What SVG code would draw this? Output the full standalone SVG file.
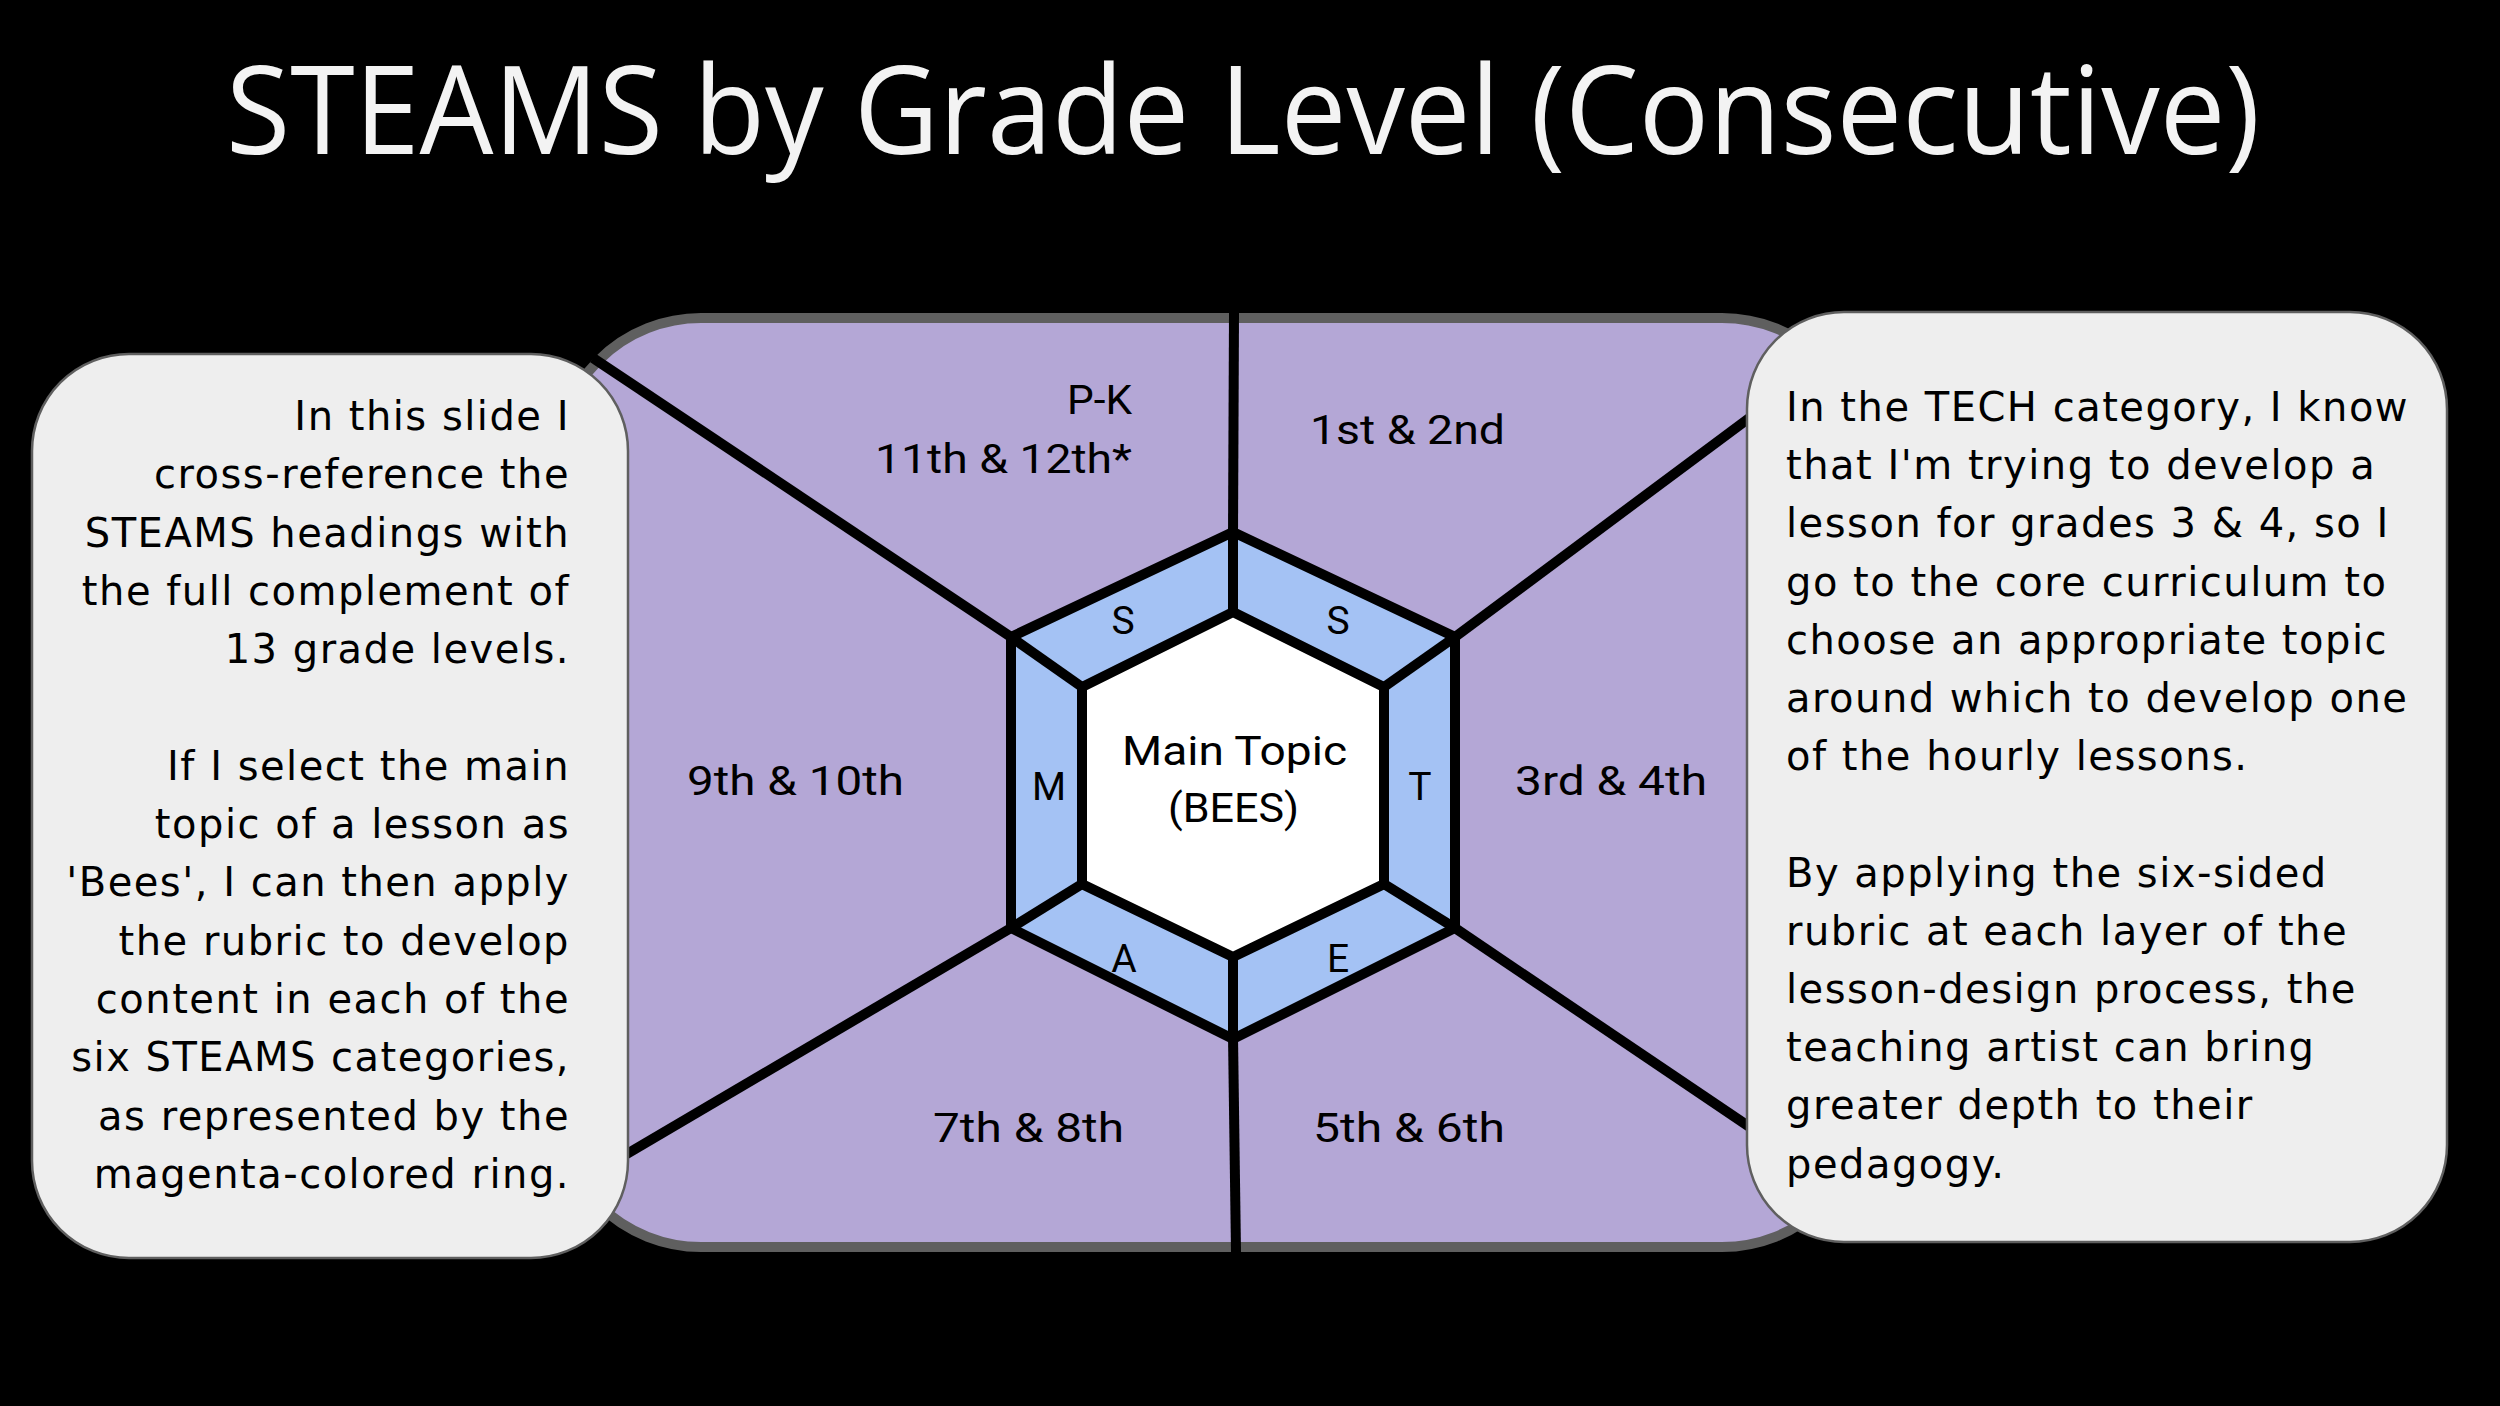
<svg xmlns="http://www.w3.org/2000/svg" width="2500" height="1406" viewBox="0 0 2500 1406">
<style>
.title{font-family:"Open Sans","DejaVu Sans",sans-serif;font-size:122px;fill:#f3f3f3}
.call{fill:#eeeeee;stroke:#5f5f5f;stroke-width:2.5}
.ctext{font-family:"DejaVu Sans",sans-serif;font-size:40px;letter-spacing:1.5px;fill:#000}
.cr{text-anchor:end}
.lbl{font-family:Roboto,"DejaVu Sans",sans-serif;font-size:41px;fill:#000}
.ltr{font-family:Roboto,"DejaVu Sans",sans-serif;font-size:39px;fill:#000;text-anchor:middle}
.spoke{stroke:#000;stroke-width:10;fill:none;stroke-linecap:butt}
.hex{stroke:#000;stroke-width:10;stroke-linejoin:miter}
</style>
<rect x="0" y="0" width="2500" height="1406" fill="#000"/>
<text class="title" x="1243" y="154" text-anchor="middle" textLength="2034" lengthAdjust="spacingAndGlyphs">STEAMS by Grade Level (Consecutive)</text>

<g id="board">
<rect x="556" y="318" width="1311" height="929" rx="145" ry="145" fill="#b4a7d6" stroke="#5f5f5f" stroke-width="10"/>
</g>

<g id="connectors">
<line class="spoke" x1="1234" y1="313" x2="1233" y2="535"/>
<line class="spoke" x1="1233" y1="1036" x2="1236" y2="1253"/>
<line class="spoke" x1="1011" y1="637" x2="593" y2="358"/>
<line class="spoke" x1="1455" y1="637" x2="1760" y2="410"/>
<line class="spoke" x1="1011" y1="928" x2="620" y2="1158"/>
<line class="spoke" x1="1455" y1="928" x2="1760" y2="1134"/>
</g>

<g id="ring">
<polygon class="hex" points="1233,532 1455,637 1455,928 1233,1039 1011,928 1011,637" fill="#a4c2f4"/>
<polygon class="hex" points="1233,612 1384,687 1384,884 1233,957 1082,884 1082,687" fill="#ffffff"/>
<line class="spoke" x1="1233" y1="532" x2="1233" y2="612"/>
<line class="spoke" x1="1455" y1="637" x2="1384" y2="687"/>
<line class="spoke" x1="1455" y1="928" x2="1384" y2="884"/>
<line class="spoke" x1="1233" y1="1039" x2="1233" y2="957"/>
<line class="spoke" x1="1011" y1="928" x2="1082" y2="884"/>
<line class="spoke" x1="1011" y1="637" x2="1082" y2="687"/>
<text class="ltr" x="1123" y="634">S</text>
<text class="ltr" x="1338" y="634">S</text>
<text class="ltr" x="1420" y="800">T</text>
<text class="ltr" x="1338" y="972">E</text>
<text class="ltr" x="1124" y="972">A</text>
<text class="ltr" x="1049" y="800">M</text>
</g>

<g id="main-topic">
<text class="lbl" x="1122" y="765" textLength="225" lengthAdjust="spacingAndGlyphs">Main Topic</text>
<text class="lbl" x="1168" y="822" textLength="131" lengthAdjust="spacingAndGlyphs">(BEES)</text>
</g>

<g id="seg-pk-11-12">
<text class="lbl" x="1067" y="414" textLength="65" lengthAdjust="spacingAndGlyphs">P-K</text>
<text class="lbl" x="875" y="473" textLength="257" lengthAdjust="spacingAndGlyphs">11th &amp; 12th*</text>
</g>
<g id="seg-1-2"><text class="lbl" x="1310" y="444" textLength="195" lengthAdjust="spacingAndGlyphs">1st &amp; 2nd</text></g>
<g id="seg-3-4"><text class="lbl" x="1515" y="795" textLength="192" lengthAdjust="spacingAndGlyphs">3rd &amp; 4th</text></g>
<g id="seg-5-6"><text class="lbl" x="1313" y="1142" textLength="192" lengthAdjust="spacingAndGlyphs">5th &amp; 6th</text></g>
<g id="seg-7-8"><text class="lbl" x="933" y="1142" textLength="191" lengthAdjust="spacingAndGlyphs">7th &amp; 8th</text></g>
<g id="seg-9-10"><text class="lbl" x="687" y="795" textLength="217" lengthAdjust="spacingAndGlyphs">9th &amp; 10th</text></g>

<g id="callout-left">
<rect class="call" x="32" y="354" width="596" height="904" rx="97" ry="97"/>
<text class="ctext cr" x="570" y="430">In this slide I</text>
<text class="ctext cr" x="570" y="488.3">cross-reference the</text>
<text class="ctext cr" x="570" y="546.6">STEAMS headings with</text>
<text class="ctext cr" x="570" y="604.9">the full complement of</text>
<text class="ctext cr" x="570" y="663.2">13 grade levels.</text>
<text class="ctext cr" x="570" y="779.8">If I select the main</text>
<text class="ctext cr" x="570" y="838.1">topic of a lesson as</text>
<text class="ctext cr" x="570" y="896.4">'Bees', I can then apply</text>
<text class="ctext cr" x="570" y="954.7">the rubric to develop</text>
<text class="ctext cr" x="570" y="1013">content in each of the</text>
<text class="ctext cr" x="570" y="1071.3">six STEAMS categories,</text>
<text class="ctext cr" x="570" y="1129.6">as represented by the</text>
<text class="ctext cr" x="570" y="1187.9">magenta-colored ring.</text>
</g>

<g id="callout-right">
<rect class="call" x="1747" y="312" width="700" height="930" rx="97" ry="97"/>
<text class="ctext" x="1786" y="421">In the TECH category, I know</text>
<text class="ctext" x="1786" y="479.2">that I'm trying to develop a</text>
<text class="ctext" x="1786" y="537.4">lesson for grades 3 &amp; 4, so I</text>
<text class="ctext" x="1786" y="595.6">go to the core curriculum to</text>
<text class="ctext" x="1786" y="653.8">choose an appropriate topic</text>
<text class="ctext" x="1786" y="712">around which to develop one</text>
<text class="ctext" x="1786" y="770.2">of the hourly lessons.</text>
<text class="ctext" x="1786" y="886.6">By applying the six-sided</text>
<text class="ctext" x="1786" y="944.8">rubric at each layer of the</text>
<text class="ctext" x="1786" y="1003">lesson-design process, the</text>
<text class="ctext" x="1786" y="1061.2">teaching artist can bring</text>
<text class="ctext" x="1786" y="1119.4">greater depth to their</text>
<text class="ctext" x="1786" y="1177.6">pedagogy.</text>
</g>
</svg>
